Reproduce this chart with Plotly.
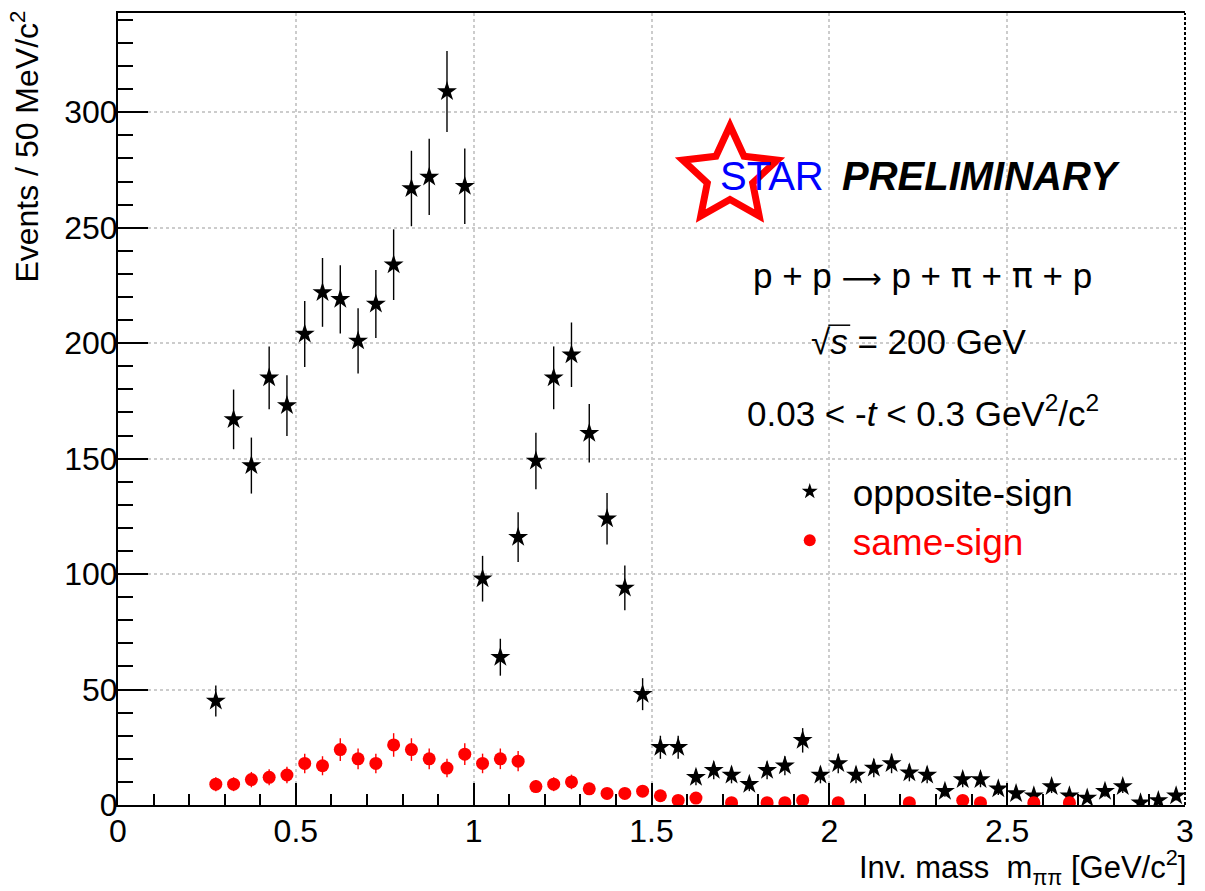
import numpy as np
import plotly.graph_objects as go

# Invariant-mass histogram: 50 MeV/c^2 bins between 0.25 and 3.0 GeV/c^2
bin_width = 0.05
mass_centers = np.round(np.arange(0.25 + bin_width / 2, 3.0, bin_width), 3)

# Events per bin, opposite-sign pion pairs
opposite_sign = [45, 167, 147, 185, 173, 204, 222, 219, 201, 217,
                 234, 267, 272, 309, 268, 98, 64, 116, 149, 185,
                 195, 161, 124, 94, 48, 25, 25, 12, 15, 13,
                 9, 15, 17, 28, 13, 18, 13, 16, 18, 14,
                 13, 6, 11, 11, 7, 5, 4, 8, 4, 3,
                 6, 8, 1, 2, 4]

# Events per bin, same-sign pion pairs
same_sign = [9, 9, 11, 12, 13, 18, 17, 24, 20, 18,
             26, 24, 20, 16, 22, 18, 20, 19, 8, 9,
             10, 7, 5, 5, 6, 4, 2, 3, 0, 1,
             0, 1, 1, 2, 0, 1, 0, 0, 0, 1,
             0, 0, 2, 1, 0, 0, 1, 0, 1, 0,
             0, 0, 0, 0, 0]

FONT = "Liberation Sans, Arial, Helvetica, sans-serif"
SYMBOL_FONT = "DejaVu Sans"

# Canvas / frame geometry (pixels)
W, H = 1205, 891
M_L, M_R, M_T, M_B = 118, 13, 11, 86
PW = W - M_L - M_R
PH = H - M_T - M_B


def px(x):
    """Canvas pixel column -> paper x."""
    return (x - M_L) / PW


def py(y):
    """Canvas pixel row -> paper y."""
    return (H - M_B - y) / PH


os_counts = np.array(opposite_sign, dtype=float)
ss_counts = np.array(same_sign, dtype=float)
# empty bins are not drawn
ss_draw = [v if v > 0 else None for v in same_sign]

fig = go.Figure()

fig.add_trace(go.Scatter(
    x=mass_centers, y=os_counts, mode="markers", name="opposite-sign",
    legend="legend",
    marker=dict(symbol="star", size=15, color="black", line=dict(width=0)),
    error_y=dict(type="data", array=np.sqrt(os_counts), visible=True,
                 color="black", thickness=1.4, width=0),
))

fig.add_trace(go.Scatter(
    x=mass_centers, y=ss_draw, mode="markers",
    name="<span style='color:#ff0000'>same-sign</span>",
    legend="legend2",
    marker=dict(symbol="circle", size=13, color="#ff0000", line=dict(width=0)),
    error_y=dict(type="data", array=np.sqrt(ss_counts), visible=True,
                 color="#ff0000", thickness=1.4, width=0),
))

axis_common = dict(
    ticks="inside", tickwidth=1.5, tickcolor="black",
    showline=True, linecolor="black", linewidth=2,
    showgrid=True, gridcolor="#cccccc", griddash="dot", gridwidth=1.5,
    zeroline=False,
    tickfont=dict(family=FONT, size=32, color="black"),
)

legend_common = dict(
    xanchor="left", yanchor="top",
    bgcolor="rgba(0,0,0,0)", borderwidth=0,
    font=dict(family=FONT, size=37, color="black"),
    itemwidth=76, itemsizing="constant",
)

fig.update_layout(
    width=W, height=H,
    margin=dict(l=M_L, r=M_R, t=M_T, b=M_B, pad=0),
    paper_bgcolor="white", plot_bgcolor="white",
    font=dict(family=FONT, color="black"),
    showlegend=True,
    legend=dict(x=px(771), y=py(460), **legend_common),
    legend2=dict(x=px(771), y=py(509), **legend_common),
    xaxis=dict(
        range=[0, 3], tick0=0, dtick=0.5, ticklen=22, mirror=True,
        ticklabelstandoff=-3,
        minor=dict(ticks="inside", dtick=0.1, ticklen=11, tickwidth=1.5,
                   tickcolor="black", showgrid=False),
        **axis_common,
    ),
    yaxis=dict(
        range=[0, 343], tick0=0, dtick=50, ticklen=30,
        ticklabelstandoff=-8,
        minor=dict(ticks="inside", dtick=10, ticklen=15, tickwidth=1.5,
                   tickcolor="black", showgrid=False),
        **axis_common,
    ),
)

# right frame edge, dashed
shapes = [
    dict(type="line", xref="paper", yref="paper", x0=1, x1=1, y0=0, y1=1,
         line=dict(color="black", width=2, dash="3px,2px"), layer="above"),
]

# STAR logo: five-pointed red star outline
cx, cy, r_out, r_in = 734, 174, 50, 24
pts = []
for k in range(10):
    ang = np.pi / 2 + k * np.pi / 5
    r = r_out if k % 2 == 0 else r_in
    pts.append((cx + r * np.cos(ang), cy - r * np.sin(ang)))
star_path = "M " + " L ".join(f"{px(x):.5f},{py(y):.5f}" for x, y in pts) + " Z"
shapes.append(dict(type="path", xref="paper", yref="paper", path=star_path,
                   fillcolor="white", line=dict(color="#ff0000", width=7),
                   layer="above"))

# overbar of the square root
shapes.append(dict(type="line", xref="paper", yref="paper",
                   x0=px(833), x1=px(855), y0=py(324), y1=py(324),
                   line=dict(color="black", width=1.5), layer="above"))

fig.update_layout(shapes=shapes)

arrow = f"<span style=\"font-family:'{SYMBOL_FONT}';font-size:28px\">\u27f6</span>"
pi = f"<span style=\"font-family:'{SYMBOL_FONT}'\">\u03c0</span>"

annotations = [
    dict(text="STAR", x=px(776), y=py(174), font=dict(size=40, color="#0000ff")),
    dict(text="<b><i>PRELIMINARY</i></b>", x=px(845), y=py(174), xanchor="left",
         font=dict(size=40, color="black")),
    dict(text=f"p + p {arrow} p + {pi} + {pi} + p", x=px(928), y=py(275),
         font=dict(size=35)),
    dict(text="\u221a<i>s</i> = 200 GeV", x=px(924), y=py(340),
         font=dict(size=35)),
    dict(text="0.03 < -<i>t</i> < 0.3 GeV<sup>2</sup>/c<sup>2</sup>", x=px(928), y=py(410),
         font=dict(size=35)),
    dict(text="Inv. mass  m<sub>\u03c0\u03c0</sub> [GeV/c<sup>2</sup>]", x=1, y=py(868),
         xanchor="right", xshift=3, font=dict(size=31)),
    dict(text="Events / 50 MeV/c<sup>2</sup>", x=px(24), y=1, yanchor="top", yshift=4,
         textangle=-90, font=dict(size=32)),
]
for a in annotations:
    a.setdefault("xref", "paper")
    a.setdefault("yref", "paper")
    a.setdefault("showarrow", False)
    a.setdefault("xanchor", "center")
    a.setdefault("yanchor", "middle")
    a["font"] = dict(family=FONT, color=a["font"].get("color", "black"), size=a["font"]["size"])
fig.update_layout(annotations=annotations)

fig.write_html("out.html")
